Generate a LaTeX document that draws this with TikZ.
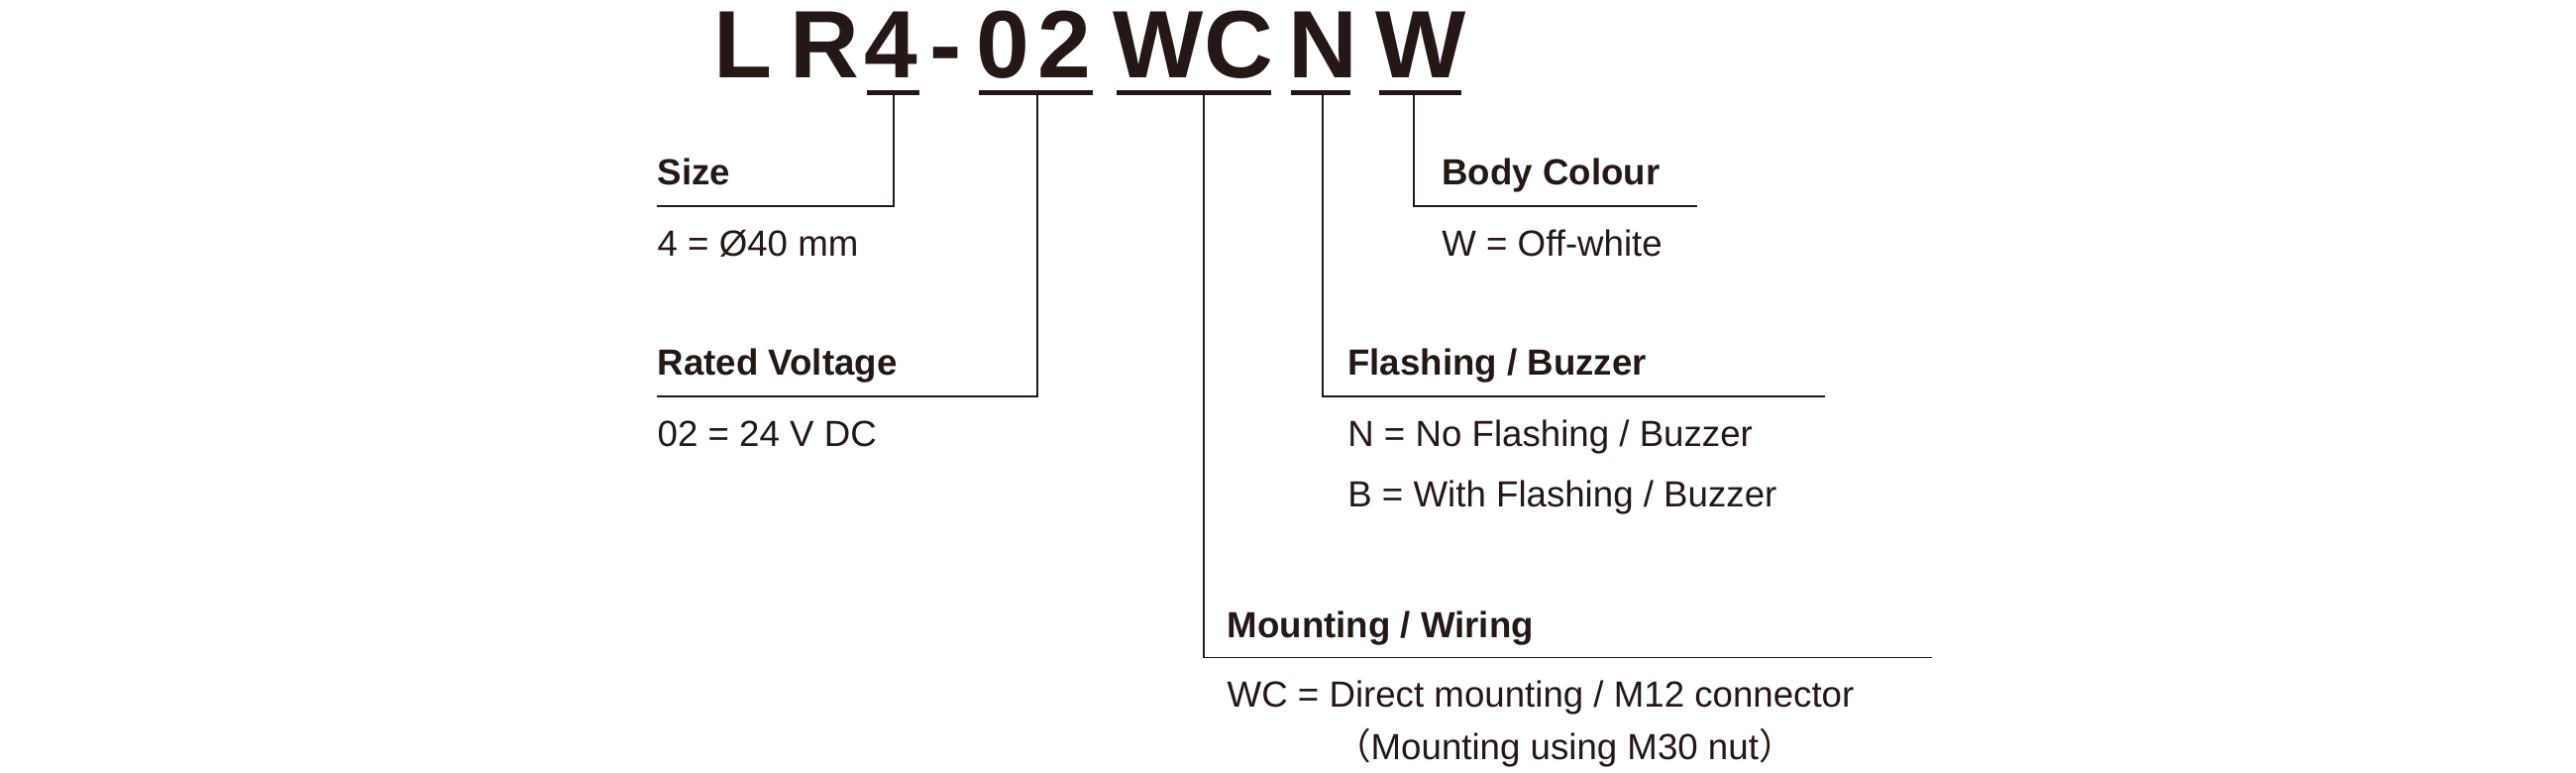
\documentclass[tikz,border=0pt]{standalone}
\usepackage{fontspec}
\setmainfont{Liberation Sans}
\newfontfamily\cjkfont{Noto Sans CJK JP}
\usetikzlibrary{positioning}
\definecolor{ink}{HTML}{231815}

\begin{document}
\begin{tikzpicture}[x=1pt, y=-1pt, font=\fontsize{22}{26}\selectfont, color=ink,
  code/.style={font=\fontsize{58}{60}\selectfont\bfseries, anchor=base west, inner sep=0pt},
  head/.style={font=\fontsize{22}{26}\selectfont\bfseries, anchor=base west, inner sep=0pt},
  item/.style={anchor=base west, inner sep=0pt},
  lead/.style={line width=1pt},
  bar/.style={line width=3pt}]

\useasboundingbox (0,0) rectangle (1560,468);

%% code letters
\node[code] (cL) at (432,47) {L};
\node[code] (cR) at (478,47) {R};
\node[code] (c4) at (523,47) {4};
\node[code] (cd) at (563,47) {-};
\node[code] (c0) at (591,47) {0};
\node[code] (c2) at (628,47) {2};
\node[code] (cW) at (674,47) {W};
\node[code] (cC) at (729,47) {C};
\node[code] (cN) at (780,47) {N};
\node[code] (cB) at (833,47) {W};

%% underlines
\draw[bar] (525,56) -- (557,56);
\draw[bar] (593,56) -- (662,56);
\draw[bar] (676,56) -- (770,56);
\draw[bar] (782,56) -- (818,56);
\draw[bar] (835,56) -- (885,56);

\coordinate (uSize) at (541,57);
\coordinate (uVolt) at (628,57);
\coordinate (uMount) at (729,57);
\coordinate (uFlash) at (801,57);
\coordinate (uBody) at (856,57);

\coordinate (kSize) at (541,125);
\coordinate (kVolt) at (628,240);
\coordinate (kMount) at (729,398);
\coordinate (kFlash) at (801,240);
\coordinate (kBody) at (856,125);

\coordinate (eSize) at (398,125);
\coordinate (eVolt) at (398,240);
\coordinate (eMount) at (1170,398);
\coordinate (eFlash) at (1105,240);
\coordinate (eBody) at (1028,125);

\draw[lead] (uSize) -- (kSize) -- (eSize);
\draw[lead] (uVolt) -- (kVolt) -- (eVolt);
\draw[lead] (uMount) -- (kMount) -- (eMount);
\draw[lead] (uFlash) -- (kFlash) -- (eFlash);
\draw[lead] (uBody) -- (kBody) -- (eBody);

%% labels
\node[head] (hSize) at (398,112) {Size};
\node[item] (iSize) at (398,155) {4 = Ø40 mm};

\node[head] (hVolt) at (398,227) {Rated Voltage};
\node[item] (iVolt) at (398,270) {02 = 24 V DC};

\node[head] (hBody) at (873,112) {Body Colour};
\node[item] (iBody) at (873,155) {W = Off-white};

\node[head] (hFlash) at (816,227) {Flashing / Buzzer};
\node[item] (iFlashN) at (816,270) {N = No Flashing / Buzzer};
\node[item] (iFlashB) at (816,307) {B = With Flashing / Buzzer};

\node[head] (hMount) at (743,386) {Mounting / Wiring};
\node[item] (iMount) at (743,428) {WC = Direct mounting / M12 connector};
\node[item] (iNut) at (808,460) {{\cjkfont （}Mounting using M30 nut{\cjkfont ）}};

\end{tikzpicture}
\end{document}
